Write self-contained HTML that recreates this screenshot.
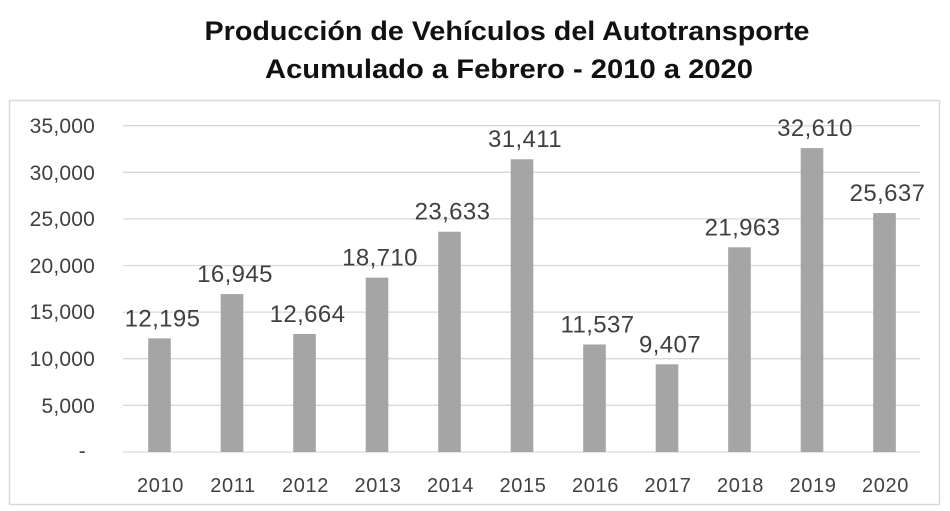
<!DOCTYPE html>
<html><head><meta charset="utf-8"><style>
body{margin:0;background:#fff;width:950px;height:511px;overflow:hidden}
svg{display:block}
text{font-family:"Liberation Sans",sans-serif}
</style></head><body>
<svg width="950" height="511" viewBox="0 0 950 511">
<text x="507" y="40" text-anchor="middle" font-size="27" font-weight="bold" fill="#111" textLength="605" lengthAdjust="spacingAndGlyphs">Producción de Vehículos del Autotransporte</text>
<text x="509" y="78" text-anchor="middle" font-size="27" font-weight="bold" fill="#111" textLength="488" lengthAdjust="spacingAndGlyphs">Acumulado a Febrero - 2010 a 2020</text>
<rect x="9.5" y="100.5" width="930" height="404" fill="none" stroke="#d9d9d9" stroke-width="1.5"/>
<g stroke="#d9d9d9" stroke-width="1.3">
<line x1="123" x2="920" y1="125.7" y2="125.7"/><line x1="123" x2="920" y1="172.3" y2="172.3"/>
<line x1="123" x2="920" y1="218.9" y2="218.9"/><line x1="123" x2="920" y1="265.5" y2="265.5"/>
<line x1="123" x2="920" y1="312.1" y2="312.1"/><line x1="123" x2="920" y1="358.7" y2="358.7"/>
<line x1="123" x2="920" y1="405.3" y2="405.3"/><line x1="123" x2="920" y1="452" y2="452"/>
</g>
<g font-size="21" fill="#404040" text-anchor="end" letter-spacing="0.2">
<text x="95" y="133">35,000</text><text x="95" y="180">30,000</text><text x="95" y="226">25,000</text>
<text x="95" y="273">20,000</text><text x="95" y="319">15,000</text><text x="95" y="366">10,000</text>
<text x="95" y="413">5,000</text><text x="86" y="458">-</text>
</g>
<g fill="#a5a5a5" id="bars"></g>
<g id="lbl" font-size="24" fill="#404040" text-anchor="middle" letter-spacing="0.4"></g>
<g id="xl" font-size="20" fill="#404040" text-anchor="middle" letter-spacing="0.6"></g>
</svg>
<script>
var v=[12195,16945,12664,18710,23633,31411,11537,9407,21963,32610,25637];
var ns="http://www.w3.org/2000/svg",b=document.getElementById('bars'),l=document.getElementById('lbl'),xl=document.getElementById('xl');
v.forEach(function(d,i){var c=159.5+i*72.5,h=d*46.6/5000,y=452-h;
var r=document.createElementNS(ns,'rect');r.setAttribute('x',c-11.3);r.setAttribute('y',y);r.setAttribute('width',22.6);r.setAttribute('height',h);b.appendChild(r);
var t=document.createElementNS(ns,'text');t.setAttribute('x',c+3);t.setAttribute('y',y-12);t.textContent=d.toLocaleString('en-US');l.appendChild(t);
var u=document.createElementNS(ns,'text');u.setAttribute('x',c+1);u.setAttribute('y',492);u.textContent=2010+i;xl.appendChild(u);});
</script>
</body></html>
